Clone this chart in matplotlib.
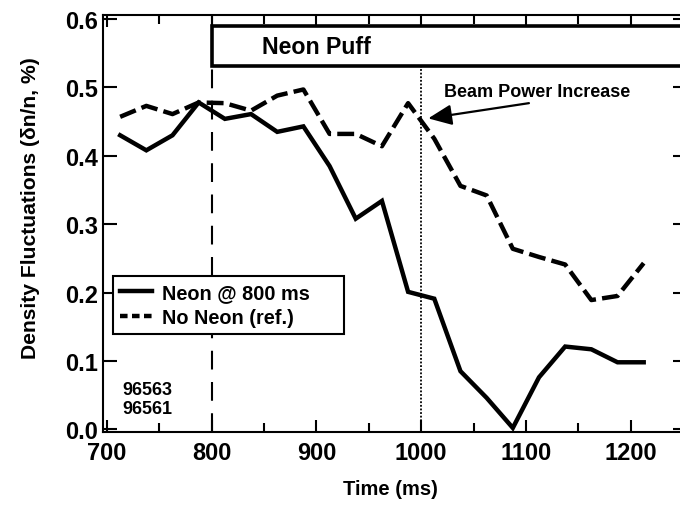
import matplotlib.pyplot as plt
from matplotlib.patches import Rectangle
from matplotlib.lines import Line2D
from matplotlib.ticker import MultipleLocator, FormatStrFormatter

plt.rcParams['font.family'] = ['Liberation Sans', 'DejaVu Sans']
plt.rcParams['font.weight'] = 'bold'

# sample times (ms) and fluctuation levels (%)
time_ms = [712.5, 737.5, 762.5, 787.5, 812.5, 837.5, 862.5, 887.5, 912.5, 937.5,
           962.5, 987.5, 1012.5, 1037.5, 1062.5, 1087.5, 1112.5, 1137.5, 1162.5,
           1187.5, 1212.5]
neon_800 = [0.430, 0.408, 0.430, 0.478, 0.454, 0.461, 0.435, 0.443, 0.385, 0.308,
            0.334, 0.201, 0.191, 0.085, 0.046, 0.002, 0.076, 0.121, 0.117, 0.098,
            0.098]
no_neon = [0.457, 0.473, 0.461, 0.478, 0.477, 0.466, 0.488, 0.497, 0.432, 0.432,
           0.414, 0.477, 0.425, 0.356, 0.342, 0.264, 0.252, 0.241, 0.189, 0.195,
           0.243]
series_labels = ['Neon @ 800 ms', 'No Neon (ref.)']
shot_numbers = ['96563', '96561']

puff_start = 800
beam_step = 1000

fig = plt.figure(figsize=(6.8, 5.1), dpi=100)
ax = fig.add_axes([0.1519, 0.1504, 0.858, 0.8182])

# event markers
ax.axvline(puff_start, color='k', lw=1.5, ls=(0, (9, 6)), zorder=1)
ax.axvline(beam_step, color='k', lw=1.3, ls=(0, (1, 1)), zorder=1)

ax.plot(time_ms, neon_800, color='k', lw=3.2, solid_joinstyle='miter', zorder=2)
ax.plot(time_ms, no_neon, color='k', lw=3.2, ls=(0, (3.8, 1.4)),
        dash_capstyle='butt', zorder=2)

# neon puff bar
ax.add_patch(Rectangle((puff_start, 0.531), 800, 0.059, fc='white', ec='k',
                       lw=2.6, zorder=3))
ax.text(848, 0.560, 'Neon Puff', fontsize=16.7, fontweight='bold',
        ha='left', va='center', zorder=4)

ax.annotate('', xy=(1006.7, 0.4547), xytext=(1102.9, 0.477),
            arrowprops=dict(arrowstyle='-|>,head_length=0.8,head_width=0.35',
                            mutation_scale=18, lw=1.6, color='k',
                            shrinkA=0, shrinkB=0), zorder=4)
ax.text(1021.6, 0.4947, 'Beam Power Increase', fontsize=13, fontweight='bold',
        ha='left', va='center')

ax.text(714.4, 0.0578, shot_numbers[0], fontsize=13, ha='left', va='center')
ax.text(714.4, 0.0307, shot_numbers[1], fontsize=13, ha='left', va='center')

handles = [Line2D([], [], color='k', lw=3.2),
           Line2D([], [], color='k', lw=3.2, ls=(0, (1.7, 1.0)))]
leg = ax.legend(handles, series_labels, loc='upper left',
                bbox_to_anchor=(0.0171, 0.30, 0.396, 0.0753), mode='expand',
                borderaxespad=0, fontsize=14.3, handlelength=1.6,
                handletextpad=0.5, borderpad=0.35, labelspacing=0.3,
                fancybox=False, framealpha=1, edgecolor='k')
leg.get_frame().set_linewidth(1.5)

ax.set_xlim(696.4, 1253.6)
ax.set_ylim(-0.0044, 0.6059)
ax.xaxis.set_major_locator(MultipleLocator(100))
ax.xaxis.set_minor_locator(MultipleLocator(50))
ax.yaxis.set_major_locator(MultipleLocator(0.1))
ax.yaxis.set_major_formatter(FormatStrFormatter('%.1f'))

ax.tick_params(which='both', direction='in', top=True, right=True,
               width=1.5, labelsize=17)
ax.tick_params(axis='x', which='major', length=8.5, pad=6)
ax.tick_params(axis='x', which='minor', length=6.5)
ax.tick_params(axis='y', which='major', length=10, pad=4)
for lab in ax.get_xticklabels() + ax.get_yticklabels():
    lab.set_fontweight('bold')
for sp in ax.spines.values():
    sp.set_linewidth(1.5)

ax.set_xlabel('Time (ms)', fontsize=14.5, fontweight='bold')
ax.set_ylabel('Density Fluctuations (δn/n, %)', fontsize=15.2, fontweight='bold')
ax.xaxis.set_label_coords(0.4914, -0.112)
ax.yaxis.set_label_coords(-0.108, 0.54)

fig.savefig('out.png', dpi=100)
